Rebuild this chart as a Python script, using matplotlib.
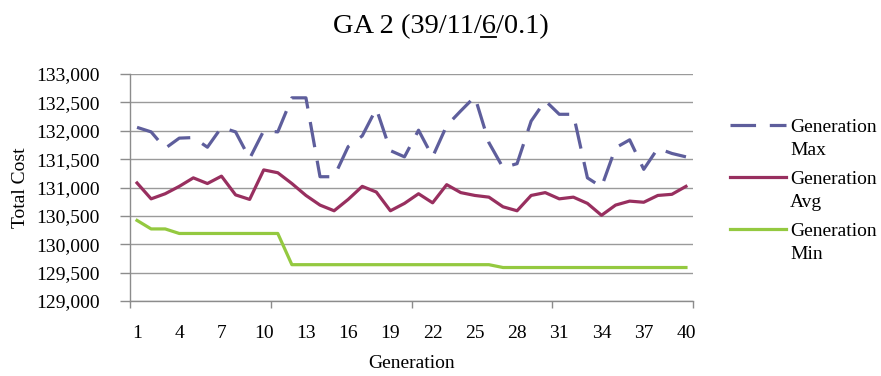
import matplotlib
matplotlib.use('Agg')
import matplotlib.pyplot as plt
import numpy as np
from matplotlib.legend_handler import HandlerLine2D
from matplotlib.lines import Line2D

plt.rcParams['font.family'] = ['Liberation Serif', 'DejaVu Serif']

# Data
generations = list(range(1, 41))
gen_max = [132060, 131980, 131690, 131870, 131880, 131710, 132060, 131980, 131510, 132000,
           131980, 132580, 132580, 131190, 131190, 131720, 131910, 132390, 131650, 131540,
           132010, 131540, 132090, 132350, 132600, 131790, 131350, 131420, 132170, 132530,
           132290, 132290, 131170, 131010, 131700, 131840, 131320, 131690, 131600, 131540]
gen_avg = [131080, 130800, 130890, 131020, 131170, 131070, 131200, 130870, 130790, 131310,
           131260, 131070, 130860, 130690, 130590, 130790, 131020, 130920, 130590, 130720,
           130890, 130730, 131050, 130910, 130860, 130830, 130660, 130590, 130860, 130910,
           130800, 130830, 130720, 130510, 130690, 130760, 130740, 130860, 130880, 131020]
gen_min = [130420, 130270, 130270] + [130190] * 8 + [129640] * 15 + [129590] * 14
tick_labels = [1, 4, 7, 10, 13, 16, 19, 22, 25, 28, 31, 34, 37, 40]
yticks = np.arange(129000, 133001, 500)
title_head, title_mark, title_tail = 'GA 2 (39/11/', '6', '/0.1)'


class UpperLineHandler(HandlerLine2D):
    # put the legend line beside the first line of a two-line label
    def create_artists(self, legend, orig_handle, xdescent, ydescent, width, height, fontsize, trans):
        arts = super().create_artists(legend, orig_handle, xdescent, ydescent, width, height, fontsize, trans)
        for a in arts:
            a.set_ydata(np.asarray(a.get_ydata()) + 0.7 * fontsize)
        return arts


fig = plt.figure(figsize=(8.81, 3.76), dpi=100)
ax = fig.add_axes([130 / 881, 1 - 301 / 376, 563 / 881, 227 / 376])

l1, = ax.plot(generations, gen_max, color='#5E5E9C', lw=2.3, dashes=(8, 4.3), label='Generation\nMax')
l2, = ax.plot(generations, gen_avg, color='#982F5F', lw=2.3, label='Generation\nAvg')
l3, = ax.plot(generations, gen_min, color='#94C940', lw=2.3, label='Generation\nMin')

ax.set_xlim(0.5, 40.5)
ax.set_ylim(129000, 133000)
ax.set_yticks(yticks)
ax.set_yticklabels([f'{v:,}' for v in yticks])
ax.set_xticks(tick_labels)
ax.set_xticklabels([str(t) for t in tick_labels])
ax.set_xticks(np.arange(0.5, 41, 10), minor=True)
ax.tick_params(axis='x', which='major', length=0, pad=17, labelsize=14)
ax.tick_params(axis='x', which='minor', length=5, color='#8C8C8C', width=1)
ax.tick_params(axis='y', length=7, color='#8C8C8C', width=1, pad=15, labelsize=14)
ax.grid(axis='y', color='#9A9A9A', lw=1)
ax.set_axisbelow(True)
for s in ['top', 'right']:
    ax.spines[s].set_visible(False)
for s in ['left', 'bottom']:
    ax.spines[s].set_color('#8C8C8C')
    ax.spines[s].set_linewidth(1)

ax.set_xlabel('Generation', fontsize=14, labelpad=9.5)
ax.set_ylabel('Total Cost', fontsize=14, labelpad=5)

# title with the underlined "6"
title_y = 1 - 33 / 376
title = fig.text(0.5, title_y, title_head + title_mark + title_tail, fontsize=20.5,
                 ha='center', va='baseline')

handler = UpperLineHandler()
leg = ax.legend(handles=[l1, l2, l3], loc='upper left', bbox_to_anchor=(730 / 881, 1 - 119 / 376),
                bbox_transform=fig.transFigure, frameon=False, fontsize=14, borderpad=0,
                borderaxespad=0, handlelength=2.9, handletextpad=0.2, labelspacing=0.62,
                handler_map={l1: handler, l2: handler, l3: handler})
for t in leg.get_texts():
    t.set_linespacing(1.45)

fig.canvas.draw()
renderer = fig.canvas.get_renderer()
bb = title.get_window_extent(renderer)
tmp = fig.text(0, 0, title_head, fontsize=20.5)
w_head = tmp.get_window_extent(renderer).width
tmp.set_text(title_head + title_mark)
w_mark = tmp.get_window_extent(renderer).width
tmp.remove()
W, H = fig.bbox.width, fig.bbox.height
uy = title_y - 4 / H
fig.add_artist(Line2D([(bb.x0 + w_head) / W, (bb.x0 + w_mark) / W], [uy, uy],
                      transform=fig.transFigure, color='black', lw=1.3))

fig.savefig('out.png', dpi=100)
